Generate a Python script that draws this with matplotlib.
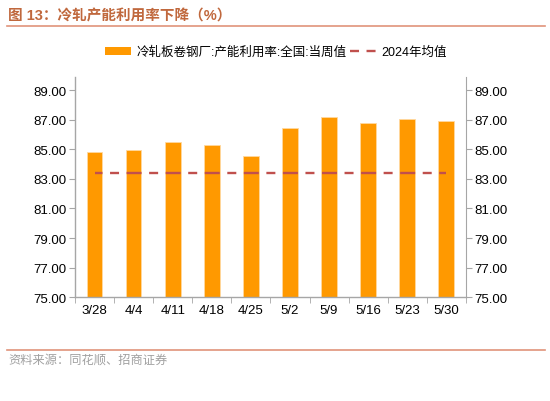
import numpy as np
import matplotlib
matplotlib.use("Agg")
import matplotlib.pyplot as plt
from matplotlib.patches import Patch
from matplotlib.lines import Line2D

plt.rcParams['font.family'] = ['Liberation Sans', 'Noto Sans CJK SC', 'DejaVu Sans']
plt.rcParams['lines.scale_dashes'] = False

# data
dates = ["3/28", "4/4", "4/11", "4/18", "4/25", "5/2", "5/9", "5/16", "5/23", "5/30"]
util_rate = [84.84, 84.93, 85.47, 85.29, 84.57, 86.46, 87.18, 86.80, 87.07, 86.93]
avg_2024 = [83.43] * len(dates)
yticks = [75, 77, 79, 81, 83, 85, 87, 89]

title = "图 13：冷轧产能利用率下降（%）"
bar_label = "冷轧板卷钢厂:产能利用率:全国:当周值"
line_label = "2024年均值"
source = "资料来源：同花顺、招商证券"

bar_color = "#FF9900"
line_color = "#C0504D"
head_color = "#C0683D"
grey = "#A6A6A6"

fig = plt.figure(figsize=(5.5, 4.02), dpi=100)
ax = fig.add_axes([0.1364, 0.258, 0.7106, 0.5485])
x = np.arange(len(dates))
ax.bar(x, util_rate, width=0.4, color=bar_color, edgecolor="#FFD9A0", linewidth=0.6, zorder=2)
# excel-like dash pattern: long dash on each point, short dash between
ax.plot(x, avg_2024, color=line_color, lw=1.7, solid_capstyle="butt",
        linestyle=(5.4, (10.8, 5.43, 6.48, 5.43)), zorder=3)

ax.set_xlim(-0.5, len(dates) - 0.5)
ax.set_ylim(75, 89.9)
ax.set_yticks(yticks)
ax.set_yticklabels([f"{v:.2f}" for v in yticks], fontsize=9.5)
ax.set_xticks(x)
ax.set_xticklabels(dates, fontsize=9.5)
ax.set_xticks(np.arange(-0.5, len(dates)), minor=True)
ax.tick_params(axis="x", which="major", length=0, pad=5)
ax.tick_params(axis="x", which="minor", length=4, color=grey, direction="out")
ax.tick_params(axis="y", length=4, color=grey, direction="out", pad=2)
for s in ["top", "right"]:
    ax.spines[s].set_visible(False)
for s in ["left", "bottom"]:
    ax.spines[s].set_color(grey)
    ax.spines[s].set_linewidth(1)

ax2 = ax.twinx()
ax2.set_ylim(ax.get_ylim())
ax2.set_yticks(yticks)
ax2.set_yticklabels([f"{v:.2f}" for v in yticks], fontsize=9.5)
ax2.tick_params(axis="y", length=4, color=grey, direction="out", pad=2)
for s in ["top", "left", "bottom"]:
    ax2.spines[s].set_visible(False)
ax2.spines["right"].set_color(grey)

handles = [Patch(facecolor=bar_color, edgecolor="none"),
           Line2D([0], [0], color=line_color, lw=1.7, linestyle=(0, (6.5, 5.4)))]
fig.legend(handles, [bar_label, line_label], loc="center left", bbox_to_anchor=(0.191, 0.868),
           ncol=2, frameon=False, handlelength=2.1, handleheight=0.7,
           columnspacing=0.3, handletextpad=0.4, borderpad=0, borderaxespad=0,
           prop={"family": ["Liberation Sans", "Noto Sans CJK SC"], "size": 9.0})

fig.text(0.015, 0.958, title, color=head_color, fontsize=10.5, fontweight="bold",
         va="center", ha="left", family=["Liberation Sans", "Noto Sans CJK SC"])
fig.add_artist(Line2D([0.012, 0.99], [0.932, 0.932], color="#E0937A", lw=1.2))
fig.add_artist(Line2D([0.012, 0.99], [0.128, 0.128], color="#E0937A", lw=1.2))
fig.text(0.015, 0.103, source, color="#A0A0A0", fontsize=8.8, va="center", ha="left",
         family=["Noto Sans CJK SC"])

fig.savefig("out.png", dpi=100)
